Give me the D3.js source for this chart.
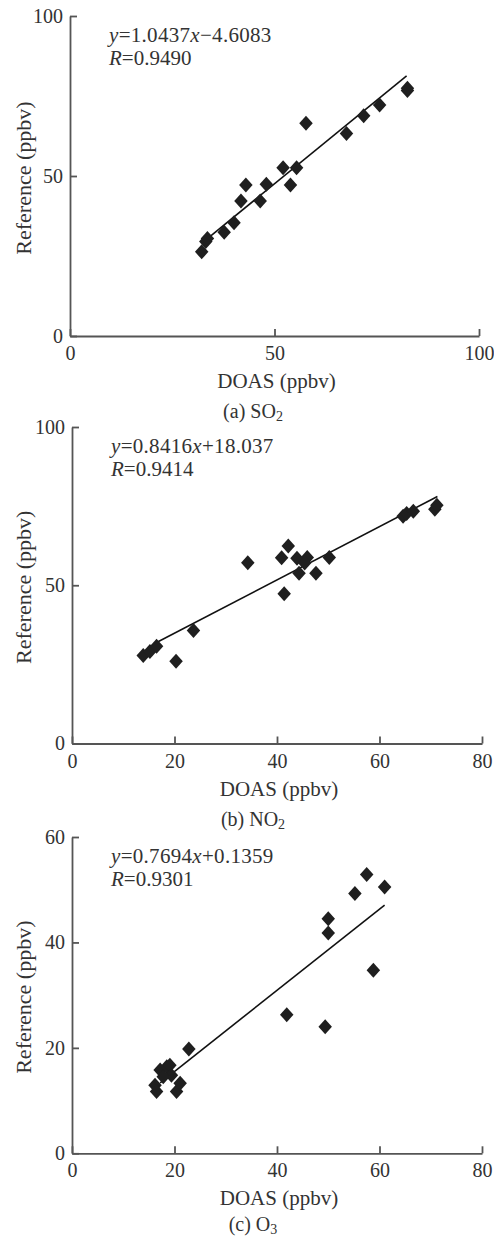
<!DOCTYPE html>
<html>
<head>
<meta charset="utf-8">
<script src="https://cdn.jsdelivr.net/npm/d3@7"></script>
<style>
  body { margin: 0; background: #fff; }
  svg text { font-family: "Liberation Serif", "Times New Roman", serif; fill: #333; }
</style>
</head>
<body>
<svg id="chart" width="494" height="1239"></svg>
<script>
// values
const so2Doas = [32.2, 33.2, 33.6, 37.7, 40.1, 41.8, 43.0, 46.5, 48.0, 52.1, 53.9, 55.4, 57.7, 67.6, 71.8, 75.7, 82.5, 82.5];
const so2Ref  = [26.3, 29.5, 30.5, 32.4, 35.4, 42.2, 47.2, 42.2, 47.4, 52.6, 47.2, 52.6, 66.5, 63.3, 68.8, 72.2, 76.7, 77.4];

const no2Doas = [13.9, 15.2, 16.5, 20.3, 23.7, 34.3, 40.9, 42.2, 41.4, 43.9, 44.3, 45.9, 45.4, 47.6, 50.2, 64.6, 65.3, 66.6, 70.8, 71.2];
const no2Ref  = [27.8, 29.1, 30.7, 26.0, 35.7, 57.1, 58.7, 62.4, 47.3, 58.5, 53.8, 58.8, 57.0, 53.8, 58.8, 71.8, 72.7, 73.4, 74.0, 75.3];

const o3Doas = [16.2, 16.5, 17.2, 18.5, 19.1, 19.4, 20.4, 21.1, 17.8, 22.8, 41.9, 49.4, 50.0, 50.0, 55.2, 57.5, 58.8, 61.0];
const o3Ref  = [12.9, 11.7, 15.8, 16.4, 16.7, 14.8, 11.7, 13.3, 14.5, 19.8, 26.3, 24.0, 41.8, 44.5, 49.3, 52.9, 34.7, 50.5];

const xMax = [100, 80, 80];
const yMax = [100, 100, 60];
const xTicks = [[0, 50, 100], [0, 20, 40, 60, 80], [0, 20, 40, 60, 80]];
const yTicks = [[0, 50, 100], [0, 50, 100], [0, 20, 40, 60]];

const fitSlope = [1.0437, 0.8416, 0.7694];
const fitIntercept = [-4.6083, 18.037, 0.1359];
const fitSign = ["\u2212", "+", "+"];
const fitConst = ["4.6083", "18.037", "0.1359"];
const fitSlopeText = ["1.0437", "0.8416", "0.7694"];
const fitR = ["0.9490", "0.9414", "0.9301"];
const fitFrom = [33.3, 16.5, 17.2];
const fitTo = [82.3, 71.3, 61.0];

const captionLetters = ["(a)", "(b)", "(c)"];
const gasNames = ["SO", "NO", "O"];
const gasSubs = ["2", "2", "3"];

const doasSeries = [so2Doas, no2Doas, o3Doas];
const refSeries = [so2Ref, no2Ref, o3Ref];

// panel boxes (layout only)
const BOXES = [
  { left: 70, right: 479, top: 16, bottom: 336 },
  { left: 72, right: 482, top: 427, bottom: 743.5 },
  { left: 72, right: 482, top: 837, bottom: 1153.3 }
];

const svg = d3.select("#chart");

const diamond = {
  draw(ctx, size) {
    const h = Math.sqrt(size) / 2;
    const w = h * 0.9;
    ctx.moveTo(0, -h);
    ctx.lineTo(w, 0);
    ctx.lineTo(0, h);
    ctx.lineTo(-w, 0);
    ctx.closePath();
  }
};

function drawPanel(i) {
  const b = BOXES[i];
  const x = d3.scaleLinear().domain([0, xMax[i]]).range([b.left, b.right]);
  const y = d3.scaleLinear().domain([0, yMax[i]]).range([b.bottom, b.top]);
  const g = svg.append("g");

  const xAxis = g.append("g")
      .attr("transform", "translate(0," + b.bottom + ")")
      .call(d3.axisBottom(x).tickValues(xTicks[i]).tickSize(-7).tickSizeOuter(0).tickPadding(10));
  const yAxis = g.append("g")
      .attr("transform", "translate(" + b.left + ",0)")
      .call(d3.axisLeft(y).tickValues(yTicks[i]).tickSize(-7).tickSizeOuter(0).tickPadding(7));

  [xAxis, yAxis].forEach(a => {
    a.selectAll("path, line").attr("stroke", "#555").attr("stroke-width", 1.8);
    a.selectAll("text").attr("font-size", 20).attr("fill", "#333")
      .attr("font-family", "Liberation Serif, Times New Roman, serif");
  });

  // axis titles
  g.append("text")
      .attr("x", (b.left + b.right) / 2 + 2)
      .attr("y", b.bottom + 52)
      .attr("text-anchor", "middle")
      .attr("font-size", 21)
      .text("DOAS (ppbv)");
  g.append("text")
      .attr("transform", "translate(31," + ((b.top + b.bottom) / 2 + 2) + ") rotate(-90)")
      .attr("text-anchor", "middle")
      .attr("font-size", 22)
      .text("Reference (ppbv)");

  // regression line
  g.append("line")
      .attr("x1", x(fitFrom[i])).attr("y1", y(fitSlope[i] * fitFrom[i] + fitIntercept[i]))
      .attr("x2", x(fitTo[i])).attr("y2", y(fitSlope[i] * fitTo[i] + fitIntercept[i]))
      .attr("stroke", "#111").attr("stroke-width", 1.6);

  // points
  const pts = doasSeries[i].map((v, k) => ({ dx: v, ref: refSeries[i][k] }));
  g.selectAll("path.pt").data(pts).enter().append("path")
      .attr("class", "pt")
      .attr("transform", d => "translate(" + x(d.dx) + "," + y(d.ref) + ")")
      .attr("d", d3.symbol().type(diamond).size(225))
      .attr("fill", "#1f1f1f");

  // equation text
  const ex = b.left + 39;
  const eq = g.append("text").attr("x", ex).attr("y", b.top + 26)
      .attr("font-size", 21).attr("letter-spacing", 0.3);
  eq.append("tspan").attr("font-style", "italic").text("y");
  eq.append("tspan").text("=" + fitSlopeText[i]);
  eq.append("tspan").attr("font-style", "italic").text("x");
  eq.append("tspan").text(fitSign[i] + fitConst[i]);
  const rt = g.append("text").attr("x", ex).attr("y", b.top + 49).attr("font-size", 21);
  rt.append("tspan").attr("font-style", "italic").text("R");
  rt.append("tspan").text("=" + fitR[i]);

  // caption
  const cap = g.append("text")
      .attr("x", 253)
      .attr("y", Math.min(b.bottom + 82, 1231))
      .attr("text-anchor", "middle")
      .attr("font-size", 20)
      .attr("fill", "#111");
  cap.append("tspan").text(captionLetters[i] + " " + gasNames[i]);
  cap.append("tspan").attr("font-size", 14).attr("dy", 3).text(gasSubs[i]);
}

[0, 1, 2].forEach(drawPanel);
</script>
</body>
</html>
